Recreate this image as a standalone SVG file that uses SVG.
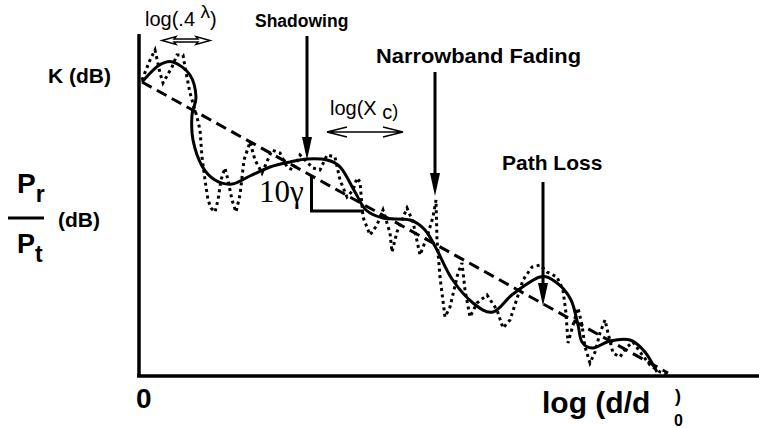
<svg xmlns="http://www.w3.org/2000/svg" width="759" height="428" viewBox="0 0 759 428">
<style>
.b{font-family:"Liberation Sans",Arial,sans-serif;font-weight:bold;fill:#000}
.r{font-family:"Liberation Sans",Arial,sans-serif;fill:#000}
.s{font-family:"Liberation Serif","Times New Roman",serif;fill:#000}
.ax{stroke:#000;stroke-width:3.5;fill:none}
.solid{stroke:#000;stroke-width:3;fill:none;stroke-linejoin:round}
.dot{stroke:#000;stroke-width:3;fill:none;stroke-dasharray:3 3.5}
.dash{stroke:#000;stroke-width:3;fill:none;stroke-dasharray:11 6}
.arr{stroke:#000;stroke-width:3;fill:none}
.thin{stroke:#000;stroke-width:1.3;fill:none}
</style>
<defs>
<path id="head" d="M-5,-23 L0,0 L5,-23 Z" fill="#000"/>
</defs>
<rect width="759" height="428" fill="#fff"/>
<g id="axes">
<path class="ax" d="M139,34 V377"/>
<path class="ax" d="M137,376 H759"/>
</g>
<g id="curves">
<path id="path-loss-line" class="dash" d="M142,82 L668,373"/>
<path id="narrowband-curve" class="dot" d="M142,80 L150,60 L155,50 L160,73 L163,83 L172,67 L177,55 L183,55 L185,67 L190,93 L197,117 L200,130 L202,157 L205,180 L208,200 L211,208 L215,212 L218,200 L221,180 L225,168 L228,180 L232,200 L236,212 L240,195 L244,160 L250,142 L255,160 L262,173 L272,150 L280,153 L287,167 L293,170 L300,155 L313,168 L320,170 L327,155 L335,157 L340,180 L347,197 L353,190 L357,178 L360,182 L363,217 L370,235 L377,225 L383,210 L390,233 L392,252 L397,232 L407,208 L413,222 L420,255 L427,237 L433,217 L436,200 L437,240 L440,277 L445,317 L450,307 L458,273 L462,263 L465,290 L470,317 L477,303 L487,295 L497,310 L503,328 L510,320 L523,280 L532,267 L540,265 L547,272 L557,277 L563,290 L566,313 L568,343 L573,325 L578,308 L582,325 L585,347 L590,363 L595,352 L600,333 L605,320 L608,333 L613,353 L620,357 L627,347 L633,342 L640,352 L650,365 L660,372 L667,374"/>
<path id="shadowing-curve" class="solid" d="M142,82 C144.7,79.3 152.8,69.3 158,66 C163.2,62.7 167.7,60.5 173,62 C178.3,63.5 186.2,69.2 190,75 C193.8,80.8 195.7,90.3 196,97 C196.3,103.7 192.5,107.8 192,115 C191.5,122.2 191.3,131.5 193,140 C194.7,148.5 198.3,159.3 202,166 C205.7,172.7 210,177 215,180 C220,183 226.2,184.7 232,184 C237.8,183.3 243.7,178.8 250,176 C256.3,173.2 263.3,169.3 270,167 C276.7,164.7 283.8,163.3 290,162 C296.2,160.7 300.8,159.3 307,159 C313.2,158.7 321.3,158.5 327,160 C332.7,161.5 336.3,162.7 341,168 C345.7,173.3 350.8,185 355,192 C359.2,199 361.3,205.7 366,210 C370.7,214.3 375.7,216.3 383,218 C390.3,219.7 403,218 410,220 C417,222 420.5,225 425,230 C429.5,235 432.5,241.8 437,250 C441.5,258.2 446,270.2 452,279 C458,287.8 466.2,297.5 473,303 C479.8,308.5 486.3,313.5 493,312 C499.7,310.5 505.2,299.8 513,294 C520.8,288.2 532.7,278.8 540,277 C547.3,275.2 551.8,279.2 557,283 C562.2,286.8 567.5,293 571,300 C574.5,307 576.2,318 578,325 C579.8,332 579.5,338.2 582,342 C584.5,345.8 588.3,348.2 593,348 C597.7,347.8 603.8,342.3 610,341 C616.2,339.7 624.2,338.2 630,340 C635.8,341.8 640.5,346.7 645,352 C649.5,357.3 655,368.7 657,372"/>
<path id="slope-marker" class="arr" d="M311.5,176 V211 H364"/>
</g>
<g id="connectors">
<path class="arr" d="M307,36 V140"/>
<use href="#head" x="307" y="160"/>
<path class="arr" d="M435,72 V175"/>
<use href="#head" x="435" y="196"/>
<path class="arr" d="M543,182 V285"/>
<use href="#head" x="543" y="306"/>
<path class="thin" d="M327,132 H403 M347,127 L327,132 L347,137 M383,127 L403,132 L383,137"/>
<path d="M162,40.5 L176,36.5 L174,39 L198,39 L196,36.5 L210,40.5 L196,44.5 L198,42 L174,42 L176,44.5 Z" fill="#fff" stroke="#000" stroke-width="1.5"/>
</g>
<g id="labels">
<text class="r" x="145" y="26" font-size="20">log(.4 <tspan font-size="19" dy="-8">λ</tspan><tspan dy="8">)</tspan></text>
<text class="b" x="255" y="27" font-size="17.5">Shadowing</text>
<text class="b" x="376" y="63" font-size="21" textLength="205" lengthAdjust="spacingAndGlyphs">Narrowband Fading</text>
<text class="r" x="330" y="115" font-size="20">log(X <tspan dy="4">c</tspan><tspan dy="-2" font-size="18">)</tspan></text>
<text class="b" x="502" y="170" font-size="21">Path Loss</text>
<text class="b" x="48" y="83" font-size="21">K (dB)</text>
<text class="s" x="259" y="202" font-size="31">10γ</text>
<text class="b" x="17" y="193" font-size="28">P<tspan dy="9" font-size="23">r</tspan></text>
<rect x="8" y="216.5" width="36" height="3" fill="#000"/>
<text class="b" x="17" y="253" font-size="27">P<tspan dy="9" font-size="23">t</tspan></text>
<text class="b" x="58" y="227" font-size="21">(dB)</text>
<text class="b" x="136" y="408" font-size="28">0</text>
<text class="b" x="542" y="413" font-size="30">log (d/d</text>
<text class="b" x="675" y="402" font-size="18">)</text>
<text class="b" x="674" y="426" font-size="16">0</text>
</g>
</svg>
